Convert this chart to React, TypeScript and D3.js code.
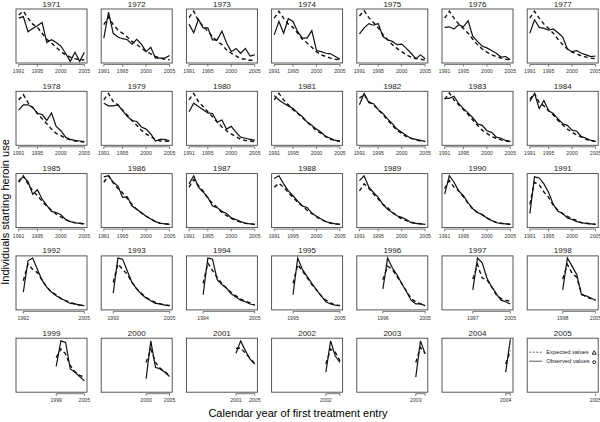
import React from 'react';
import * as d3 from 'd3';

// cohort = year of starting heroin use (one panel each)
const cohorts = [
  1971, 1972, 1973, 1974, 1975, 1976, 1977,
  1978, 1979, 1980, 1981, 1982, 1983, 1984,
  1985, 1986, 1987, 1988, 1989, 1990, 1991,
  1992, 1993, 1994, 1995, 1996, 1997, 1998,
  1999, 2000, 2001, 2002, 2003, 2004, 2005,
];

const firstYear = 1991;
const lastYear = 2005;
const fullTicks = [1991, 1995, 2000, 2005];

// relative counts (0-100) from max(cohort, 1991) to 2005
const observed: number[][] = [
  [83, 86, 58, 64, 69, 75, 38, 43, 38, 31, 18, 3, 20, 3, 20],
  [46, 94, 55, 48, 45, 43, 35, 44, 35, 21, 29, 9, 9, 9, 14],
  [72, 56, 81, 65, 65, 43, 43, 59, 37, 21, 27, 18, 27, 13, 15],
  [52, 77, 55, 82, 77, 58, 46, 46, 60, 23, 21, 18, 17, 12, 7],
  [54, 65, 73, 70, 73, 49, 43, 40, 34, 35, 27, 18, 8, 15, 8],
  [66, 67, 63, 71, 67, 78, 49, 40, 31, 28, 23, 18, 11, 12, 6],
  [55, 80, 66, 64, 61, 63, 56, 48, 26, 21, 23, 18, 15, 12, 13],
  [65, 75, 75, 70, 59, 57, 46, 60, 35, 27, 15, 11, 9, 8, 7],
  [78, 73, 73, 75, 64, 53, 46, 44, 34, 30, 21, 8, 11, 11, 8],
  [62, 78, 72, 66, 60, 59, 43, 47, 30, 35, 24, 15, 13, 11, 9],
  [92, 84, 78, 73, 68, 60, 53, 43, 37, 30, 24, 16, 13, 9, 8],
  [75, 96, 79, 77, 66, 59, 49, 40, 30, 24, 18, 13, 11, 9, 7],
  [87, 87, 91, 77, 68, 60, 51, 40, 37, 27, 24, 15, 13, 9, 7],
  [81, 96, 68, 83, 64, 59, 49, 40, 37, 28, 26, 16, 13, 9, 7],
  [87, 94, 85, 62, 70, 53, 41, 30, 28, 24, 15, 11, 9, 8, 7],
  [94, 96, 84, 77, 56, 57, 40, 34, 28, 21, 16, 11, 8, 7, 6],
  [81, 96, 75, 66, 56, 40, 37, 30, 26, 18, 15, 11, 8, 7, 6],
  [91, 96, 81, 68, 59, 49, 40, 37, 27, 21, 16, 11, 9, 7, 6],
  [87, 96, 75, 65, 56, 43, 34, 28, 22, 19, 15, 9, 8, 7, 6],
  [62, 96, 84, 68, 59, 46, 35, 28, 24, 18, 13, 9, 8, 7, 6],
  [26, 94, 92, 81, 65, 43, 30, 26, 18, 15, 11, 9, 8, 7, 6],
  [33, 91, 96, 75, 55, 42, 33, 26, 21, 17, 12, 11, 9, 8],
  [31, 96, 94, 72, 51, 39, 29, 22, 17, 12, 11, 9, 8],
  [28, 96, 94, 56, 47, 40, 30, 24, 18, 15, 11, 9],
  [28, 96, 75, 62, 49, 37, 26, 15, 11, 9, 8],
  [39, 96, 78, 65, 49, 34, 18, 11, 11, 8],
  [37, 96, 87, 59, 43, 30, 18, 15, 11],
  [37, 96, 81, 65, 28, 26, 22, 18],
  [48, 95, 92, 43, 37, 29, 21],
  [25, 95, 46, 43, 37, 29],
  [72, 95, 77, 61, 52],
  [37, 95, 67, 55],
  [28, 95, 71],
  [37, 98],
  [],
];

const expected: number[][] = [
  [89, 96, 83, 72, 66, 55, 44, 37, 29, 21, 15, 11, 8, 6, 6],
  [71, 85, 71, 61, 55, 48, 40, 34, 28, 21, 17, 12, 9, 7, 6],
  [84, 96, 78, 68, 59, 49, 40, 34, 24, 18, 13, 8, 7, 5, 5],
  [83, 96, 83, 72, 66, 55, 44, 37, 29, 21, 15, 12, 9, 7, 6],
  [87, 97, 84, 75, 65, 53, 43, 34, 27, 21, 15, 11, 8, 7, 5],
  [83, 96, 83, 72, 64, 55, 44, 34, 26, 20, 15, 12, 9, 7, 6],
  [83, 96, 83, 72, 64, 55, 44, 34, 26, 20, 17, 13, 11, 9, 8],
  [84, 94, 79, 70, 59, 49, 40, 30, 22, 18, 13, 10, 8, 7, 6],
  [84, 96, 81, 75, 65, 56, 46, 37, 28, 21, 16, 11, 8, 8, 7],
  [84, 96, 81, 72, 62, 53, 43, 34, 27, 21, 16, 11, 9, 8, 7],
  [84, 96, 84, 75, 66, 59, 51, 43, 35, 27, 22, 16, 11, 9, 7],
  [87, 94, 81, 75, 66, 57, 47, 37, 28, 22, 16, 13, 10, 8, 7],
  [85, 97, 84, 75, 66, 57, 47, 37, 28, 22, 16, 13, 10, 8, 7],
  [85, 96, 79, 73, 64, 56, 46, 38, 30, 24, 19, 15, 11, 9, 7],
  [84, 96, 81, 68, 59, 49, 40, 32, 25, 20, 15, 11, 9, 8, 7],
  [84, 96, 83, 73, 64, 54, 43, 34, 27, 21, 16, 11, 8, 7, 6],
  [75, 89, 78, 68, 54, 45, 37, 28, 22, 17, 13, 10, 8, 7, 6],
  [75, 82, 75, 65, 56, 47, 40, 32, 26, 20, 15, 11, 8, 7, 6],
  [68, 81, 73, 62, 53, 43, 37, 28, 22, 16, 13, 10, 8, 7, 6],
  [72, 87, 75, 68, 57, 45, 34, 28, 24, 18, 13, 10, 8, 7, 6],
  [43, 84, 79, 66, 56, 41, 32, 26, 21, 16, 13, 9, 8, 7, 6],
  [54, 85, 75, 69, 55, 42, 33, 28, 21, 17, 14, 11, 9, 8],
  [51, 85, 75, 66, 51, 39, 31, 23, 18, 14, 11, 9, 8],
  [49, 87, 73, 60, 49, 40, 32, 26, 20, 16, 13, 9],
  [49, 84, 72, 60, 47, 37, 26, 18, 13, 9, 8],
  [56, 81, 75, 62, 49, 35, 21, 15, 11, 8],
  [57, 84, 59, 56, 43, 28, 21, 18, 16],
  [57, 84, 68, 60, 30, 24, 21, 18],
  [64, 80, 71, 49, 38, 31, 28],
  [55, 80, 55, 44, 38, 31],
  [81, 82, 72, 63, 53],
  [52, 80, 74, 58],
  [55, 83, 72],
  [52, 77],
  [],
];

const legendLabels = ['Expected values', 'Observed values'];

const Panel = ({ idx, x0, y0, w, h }: { idx: number; x0: number; y0: number; w: number; h: number }) => {
  const cohort = cohorts[idx];
  const start = Math.max(cohort, firstYear);
  const pad = (lastYear - firstYear) * 0.04;
  const x = d3.scaleLinear().domain([firstYear - pad, lastYear + pad]).range([x0, x0 + w]);
  const y = d3.scaleLinear().domain([0, 100]).range([y0 + h, y0]);
  const years = d3.range(start, lastYear + 1);
  const line = d3
    .line<number>()
    .x((_, i) => x(years[i]))
    .y((d) => y(d));

  let ticks: number[];
  let labels: number[];
  if (cohort <= firstYear) {
    ticks = fullTicks;
    labels = fullTicks;
  } else if (cohort < lastYear) {
    ticks = [cohort, lastYear];
    labels = lastYear - cohort > 3 ? ticks : [cohort];
  } else {
    ticks = [lastYear];
    labels = [lastYear];
  }
  const axisY = y0 + h + 1.5;

  return (
    <g>
      <text x={x0 + w / 2} y={y0 - 2.5} textAnchor="middle" fontSize={8} fill="#222">
        {cohort}
      </text>
      <rect x={x0} y={y0} width={w} height={h} fill="none" stroke="#444" strokeWidth={0.9} />
      <line x1={x(ticks[0])} x2={x(ticks[ticks.length - 1])} y1={axisY} y2={axisY} stroke="#444" strokeWidth={0.7} />
      {ticks.map((t) => (
        <line key={t} x1={x(t)} x2={x(t)} y1={axisY} y2={axisY + 2.2} stroke="#444" strokeWidth={0.7} />
      ))}
      {labels.map((t) => (
        <text key={t} x={x(t)} y={axisY + 8.5} textAnchor="middle" fontSize={5.2} fill="#333">
          {t}
        </text>
      ))}
      {expected[idx].length > 0 && (
        <path d={line(expected[idx]) || ''} fill="none" stroke="#111" strokeWidth={1.4} strokeDasharray="4,3" />
      )}
      {observed[idx].length > 0 && (
        <path d={line(observed[idx]) || ''} fill="none" stroke="#111" strokeWidth={1.2} />
      )}
      {cohort === lastYear && (
        <g fontSize={5.8} fill="#222">
          <line x1={x0 + 2} x2={x0 + 15} y1={y0 + 14} y2={y0 + 14} stroke="#333" strokeWidth={0.8} strokeDasharray="2,1.5" />
          <text x={x0 + 19} y={y0 + 16}>{legendLabels[0]}</text>
          <path d={`M${x0 + 67},${y0 + 12.5} l2,3.5 l-4,0 z`} fill="none" stroke="#111" strokeWidth={0.9} />
          <line x1={x0 + 2} x2={x0 + 15} y1={y0 + 23} y2={y0 + 23} stroke="#333" strokeWidth={0.8} />
          <text x={x0 + 19} y={y0 + 25}>{legendLabels[1]}</text>
          <circle cx={x0 + 67} cy={y0 + 24} r={1.5} fill="none" stroke="#111" strokeWidth={0.9} />
        </g>
      )}
    </g>
  );
};

export default function App() {
  const cols = 7;
  const colStep = 85.2;
  const rowStep = 82.3;
  const w = 71;
  const h = 54;
  return (
    <svg
      width={600}
      height={422}
      style={{ position: 'absolute', left: 0, top: 0, background: '#fff' }}
      fontFamily="'Liberation Sans', Arial, sans-serif"
    >
      {cohorts.map((c, i) => (
        <Panel key={c} idx={i} x0={16 + (i % cols) * colStep} y0={9 + Math.floor(i / cols) * rowStep} w={w} h={h} />
      ))}
      <text x={298} y={417} textAnchor="middle" fontSize={11}>
        Calendar year of first treatment entry
      </text>
      <text transform="translate(9,212) rotate(-90)" textAnchor="middle" fontSize={11}>
        Individuals starting heroin use
      </text>
    </svg>
  );
}
